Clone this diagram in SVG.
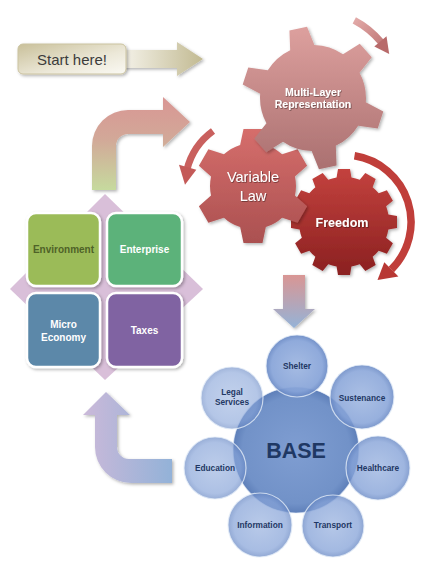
<svg xmlns="http://www.w3.org/2000/svg" width="435" height="580" viewBox="0 0 435 580">
<defs>
<style>
.t{font-family:"Liberation Sans",Arial,sans-serif;text-anchor:middle}
.w{fill:#ffffff;font-weight:bold}
.b{fill:#1f3864;font-weight:bold;font-size:8.3px}
.sat{stroke:#e4ecf8;stroke-opacity:0.8;stroke-width:1.2}
.sq{stroke:#ffffff;stroke-width:2.5}
</style>
<filter id="sh" x="-20%" y="-20%" width="140%" height="140%"><feDropShadow dx="1.5" dy="1.5" stdDeviation="1.5" flood-color="#000" flood-opacity="0.3"/></filter>
<filter id="ts" x="-10%" y="-30%" width="120%" height="160%"><feDropShadow dx="0.7" dy="0.7" stdDeviation="0.6" flood-color="#000" flood-opacity="0.5"/></filter>
<linearGradient id="gMulti" gradientUnits="userSpaceOnUse" x1="0" y1="27" x2="0" y2="170"><stop offset="0" stop-color="#dda09e"/><stop offset="1" stop-color="#aa7070"/></linearGradient>
<linearGradient id="gVar" gradientUnits="userSpaceOnUse" x1="0" y1="128" x2="0" y2="244"><stop offset="0" stop-color="#d66e6c"/><stop offset="1" stop-color="#aa5050"/></linearGradient>
<linearGradient id="gFree" gradientUnits="userSpaceOnUse" x1="0" y1="168" x2="0" y2="276"><stop offset="0" stop-color="#c4423e"/><stop offset="1" stop-color="#8a2020"/></linearGradient>
<linearGradient id="gStartBox" x1="0" y1="0" x2="1" y2="1"><stop offset="0" stop-color="#c9c09a"/><stop offset="0.6" stop-color="#ece8d8"/><stop offset="1" stop-color="#faf9f3"/></linearGradient>
<linearGradient id="gStartArrow" x1="0" y1="0" x2="1" y2="0"><stop offset="0" stop-color="#f6f4ec"/><stop offset="1" stop-color="#c2ba92"/></linearGradient>
<linearGradient id="gBent" gradientUnits="userSpaceOnUse" x1="0" y1="97" x2="0" y2="190"><stop offset="0" stop-color="#d99694"/><stop offset="0.45" stop-color="#d2a898"/><stop offset="1" stop-color="#c6da9e"/></linearGradient>
<linearGradient id="gDown" x1="0" y1="0" x2="0" y2="1"><stop offset="0" stop-color="#d99694"/><stop offset="1" stop-color="#95b3d7"/></linearGradient>
<linearGradient id="gU" x1="0" y1="0" x2="1" y2="0"><stop offset="0" stop-color="#cbb9d9"/><stop offset="1" stop-color="#93b2d8"/></linearGradient>
<linearGradient id="gArc1" gradientUnits="userSpaceOnUse" x1="354" y1="20" x2="389" y2="54"><stop offset="0" stop-color="#e2aaa8"/><stop offset="1" stop-color="#b86a6a"/></linearGradient>
<radialGradient id="rgSat" cx="0.5" cy="0.5" r="0.5"><stop offset="0" stop-color="#9db5e0"/><stop offset="0.82" stop-color="#86a3d8"/><stop offset="1" stop-color="#6888c4"/></radialGradient>
<radialGradient id="rgBase" cx="0.5" cy="0.5" r="0.5"><stop offset="0" stop-color="#7898cf"/><stop offset="0.85" stop-color="#6a8cc5"/><stop offset="1" stop-color="#5578b5"/></radialGradient>
<clipPath id="cMulti">
<circle cx="313" cy="98" r="53"/>
<polygon points="300,50 304,27 322,27 326,50" transform="rotate(-12 313 98)"/>
<polygon points="300,50 304,27 322,27 326,50" transform="rotate(48 313 98)"/>
<polygon points="300,50 304,27 322,27 326,50" transform="rotate(108 313 98)"/>
<polygon points="300,50 304,27 322,27 326,50" transform="rotate(168 313 98)"/>
<polygon points="300,50 304,27 322,27 326,50" transform="rotate(228 313 98)"/>
<polygon points="300,50 304,27 322,27 326,50" transform="rotate(288 313 98)"/>
</clipPath>
<clipPath id="cVar">
<circle cx="253" cy="186" r="43"/>
<polygon points="239.5,148 243.5,129 262.5,129 266.5,148" transform="rotate(0 253 186)"/>
<polygon points="239.5,148 243.5,129 262.5,129 266.5,148" transform="rotate(60 253 186)"/>
<polygon points="239.5,148 243.5,129 262.5,129 266.5,148" transform="rotate(120 253 186)"/>
<polygon points="239.5,148 243.5,129 262.5,129 266.5,148" transform="rotate(180 253 186)"/>
<polygon points="239.5,148 243.5,129 262.5,129 266.5,148" transform="rotate(240 253 186)"/>
<polygon points="239.5,148 243.5,129 262.5,129 266.5,148" transform="rotate(300 253 186)"/>
</clipPath>
<clipPath id="cFree">
<circle cx="344" cy="222" r="45"/>
<polygon points="336,181 338,169 350,169 352,181" transform="rotate(0 344 222)"/>
<polygon points="336,181 338,169 350,169 352,181" transform="rotate(30 344 222)"/>
<polygon points="336,181 338,169 350,169 352,181" transform="rotate(60 344 222)"/>
<polygon points="336,181 338,169 350,169 352,181" transform="rotate(90 344 222)"/>
<polygon points="336,181 338,169 350,169 352,181" transform="rotate(120 344 222)"/>
<polygon points="336,181 338,169 350,169 352,181" transform="rotate(150 344 222)"/>
<polygon points="336,181 338,169 350,169 352,181" transform="rotate(180 344 222)"/>
<polygon points="336,181 338,169 350,169 352,181" transform="rotate(210 344 222)"/>
<polygon points="336,181 338,169 350,169 352,181" transform="rotate(240 344 222)"/>
<polygon points="336,181 338,169 350,169 352,181" transform="rotate(270 344 222)"/>
<polygon points="336,181 338,169 350,169 352,181" transform="rotate(300 344 222)"/>
<polygon points="336,181 338,169 350,169 352,181" transform="rotate(330 344 222)"/>
</clipPath>
</defs>

<g id="connectors">
<path id="arrow-start" d="M120,50 L177,50 L177,42 L203,59 L177,76 L177,68 L120,68 Z" fill="url(#gStartArrow)" filter="url(#sh)"/>
<path id="arrow-bent" d="M92,190 L92,146 A36,36 0 0 1 128,110 L163,110 L163,97 L190,122 L163,147 L163,134 L128,134 A12,12 0 0 0 116,146 L116,190 Z" fill="url(#gBent)" filter="url(#sh)"/>
<path id="arrow-down" d="M283,275 L305,275 L305,309 L315,309 L294,328 L273,309 L283,309 Z" fill="url(#gDown)" filter="url(#sh)"/>
<path id="arrow-u" d="M172,459 L129,459 A12,12 0 0 1 117,447 L117,415 L130,415 L106,392 L83,415 L95,415 L95,447 A36,36 0 0 0 131,483 L172,483 Z" fill="url(#gU)" filter="url(#sh)"/>
<g id="arc-multi">
<path d="M354.3,20.3 A88,88 0 0 1 381,42" fill="none" stroke="url(#gArc1)" stroke-width="7"/>
<polygon points="374.3,46.6 386.5,36.3 389.2,54" fill="#b86a6a"/>
</g>
<g id="arc-var">
<path d="M213,131 A68,68 0 0 0 187,169.5" fill="none" stroke="#c9605e" stroke-width="7"/>
<polygon points="196.3,169.7 179,164.8 185,184.8" fill="#c45a58"/>
</g>
<g id="arc-free">
<path d="M354.5,155.8 A67,67 0 0 1 391.3,269.5" fill="none" stroke="#c03e3a" stroke-width="7.5"/>
<polygon points="384.3,262.3 398.4,276.4 377.5,280" fill="#b83834"/>
</g>
</g>

<g id="node-start">
<rect x="18" y="44" width="108" height="30" rx="5" fill="url(#gStartBox)" stroke="#cbc3a0" stroke-width="1" filter="url(#sh)"/>
<text class="t" x="72" y="64.5" font-size="15" fill="#3c3c3c">Start here!</text>
</g>

<g id="node-freedom">
<g filter="url(#sh)"><rect x="285" y="160" width="120" height="125" fill="url(#gFree)" clip-path="url(#cFree)"/></g>
<text class="t w" x="342" y="226.5" font-size="12.5" filter="url(#ts)">Freedom</text>
</g>

<g id="node-variable-law">
<g filter="url(#sh)"><rect x="190" y="120" width="130" height="130" fill="url(#gVar)" clip-path="url(#cVar)"/></g>
<text class="t" x="253" y="182" font-size="14.5" fill="#ffffff" filter="url(#ts)">Variable</text>
<text class="t" x="253" y="201" font-size="14.5" fill="#ffffff" filter="url(#ts)">Law</text>
</g>

<g id="node-multi-layer">
<g filter="url(#sh)"><rect x="235" y="20" width="160" height="160" fill="url(#gMulti)" clip-path="url(#cMulti)"/></g>
<text class="t w" x="313" y="96" font-size="10.5" filter="url(#ts)">Multi-Layer</text>
<text class="t w" x="313" y="108" font-size="10.5" filter="url(#ts)">Representation</text>
</g>

<g id="node-grid">
<polygon points="105,194 203,289 105,380 10,289" fill="#d9bfd9"/>
<g id="node-environment">
<rect class="sq" x="27" y="213" width="73" height="73" rx="9" fill="#9bbb59" filter="url(#sh)"/>
<text class="t" x="63.5" y="253" font-size="10" font-weight="bold" fill="#4f6228">Environment</text>
</g>
<g id="node-enterprise">
<rect class="sq" x="107" y="213" width="75" height="73" rx="9" fill="#5bb27a" filter="url(#sh)"/>
<text class="t w" x="144.5" y="253" font-size="10">Enterprise</text>
</g>
<g id="node-micro-economy">
<rect class="sq" x="27" y="293" width="73" height="74" rx="9" fill="#5b88a9" filter="url(#sh)"/>
<text class="t w" x="63.5" y="327.5" font-size="10">Micro</text>
<text class="t w" x="63.5" y="340.5" font-size="10">Economy</text>
</g>
<g id="node-taxes">
<rect class="sq" x="107" y="293" width="75" height="74" rx="9" fill="#8064a2" filter="url(#sh)"/>
<text class="t w" x="144.5" y="333.5" font-size="10">Taxes</text>
</g>
</g>

<g id="node-base-cluster">
<g id="node-base">
<circle cx="296" cy="450" r="63" fill="url(#rgBase)" fill-opacity="0.95" stroke="#e4ecf8" stroke-opacity="0.6" stroke-width="1.2"/>
<text class="t" x="296" y="457.5" font-size="21.5" font-weight="bold" fill="#1f3864">BASE</text>
</g>
<g id="node-shelter">
<circle class="sat" cx="297" cy="366" r="31" fill="url(#rgSat)" fill-opacity="0.92"/>
<text class="t b" x="297" y="369">Shelter</text>
</g>
<g id="node-sustenance">
<circle class="sat" cx="362" cy="397" r="32" fill="url(#rgSat)" fill-opacity="0.86"/>
<text class="t b" x="362" y="401">Sustenance</text>
</g>
<g id="node-healthcare">
<circle class="sat" cx="378" cy="468" r="32" fill="url(#rgSat)" fill-opacity="0.8"/>
<text class="t b" x="378" y="471">Healthcare</text>
</g>
<g id="node-transport">
<circle class="sat" cx="333" cy="526" r="31" fill="url(#rgSat)" fill-opacity="0.76"/>
<text class="t b" x="333" y="528">Transport</text>
</g>
<g id="node-information">
<circle class="sat" cx="260" cy="525" r="32" fill="url(#rgSat)" fill-opacity="0.72"/>
<text class="t b" x="260" y="528">Information</text>
</g>
<g id="node-education">
<circle class="sat" cx="215" cy="468" r="31" fill="url(#rgSat)" fill-opacity="0.68"/>
<text class="t b" x="215" y="471">Education</text>
</g>
<g id="node-legal-services">
<circle class="sat" cx="232" cy="398" r="31" fill="url(#rgSat)" fill-opacity="0.62"/>
<text class="t b" x="232" y="395">Legal</text>
<text class="t b" x="232" y="405">Services</text>
</g>
</g>
</svg>
